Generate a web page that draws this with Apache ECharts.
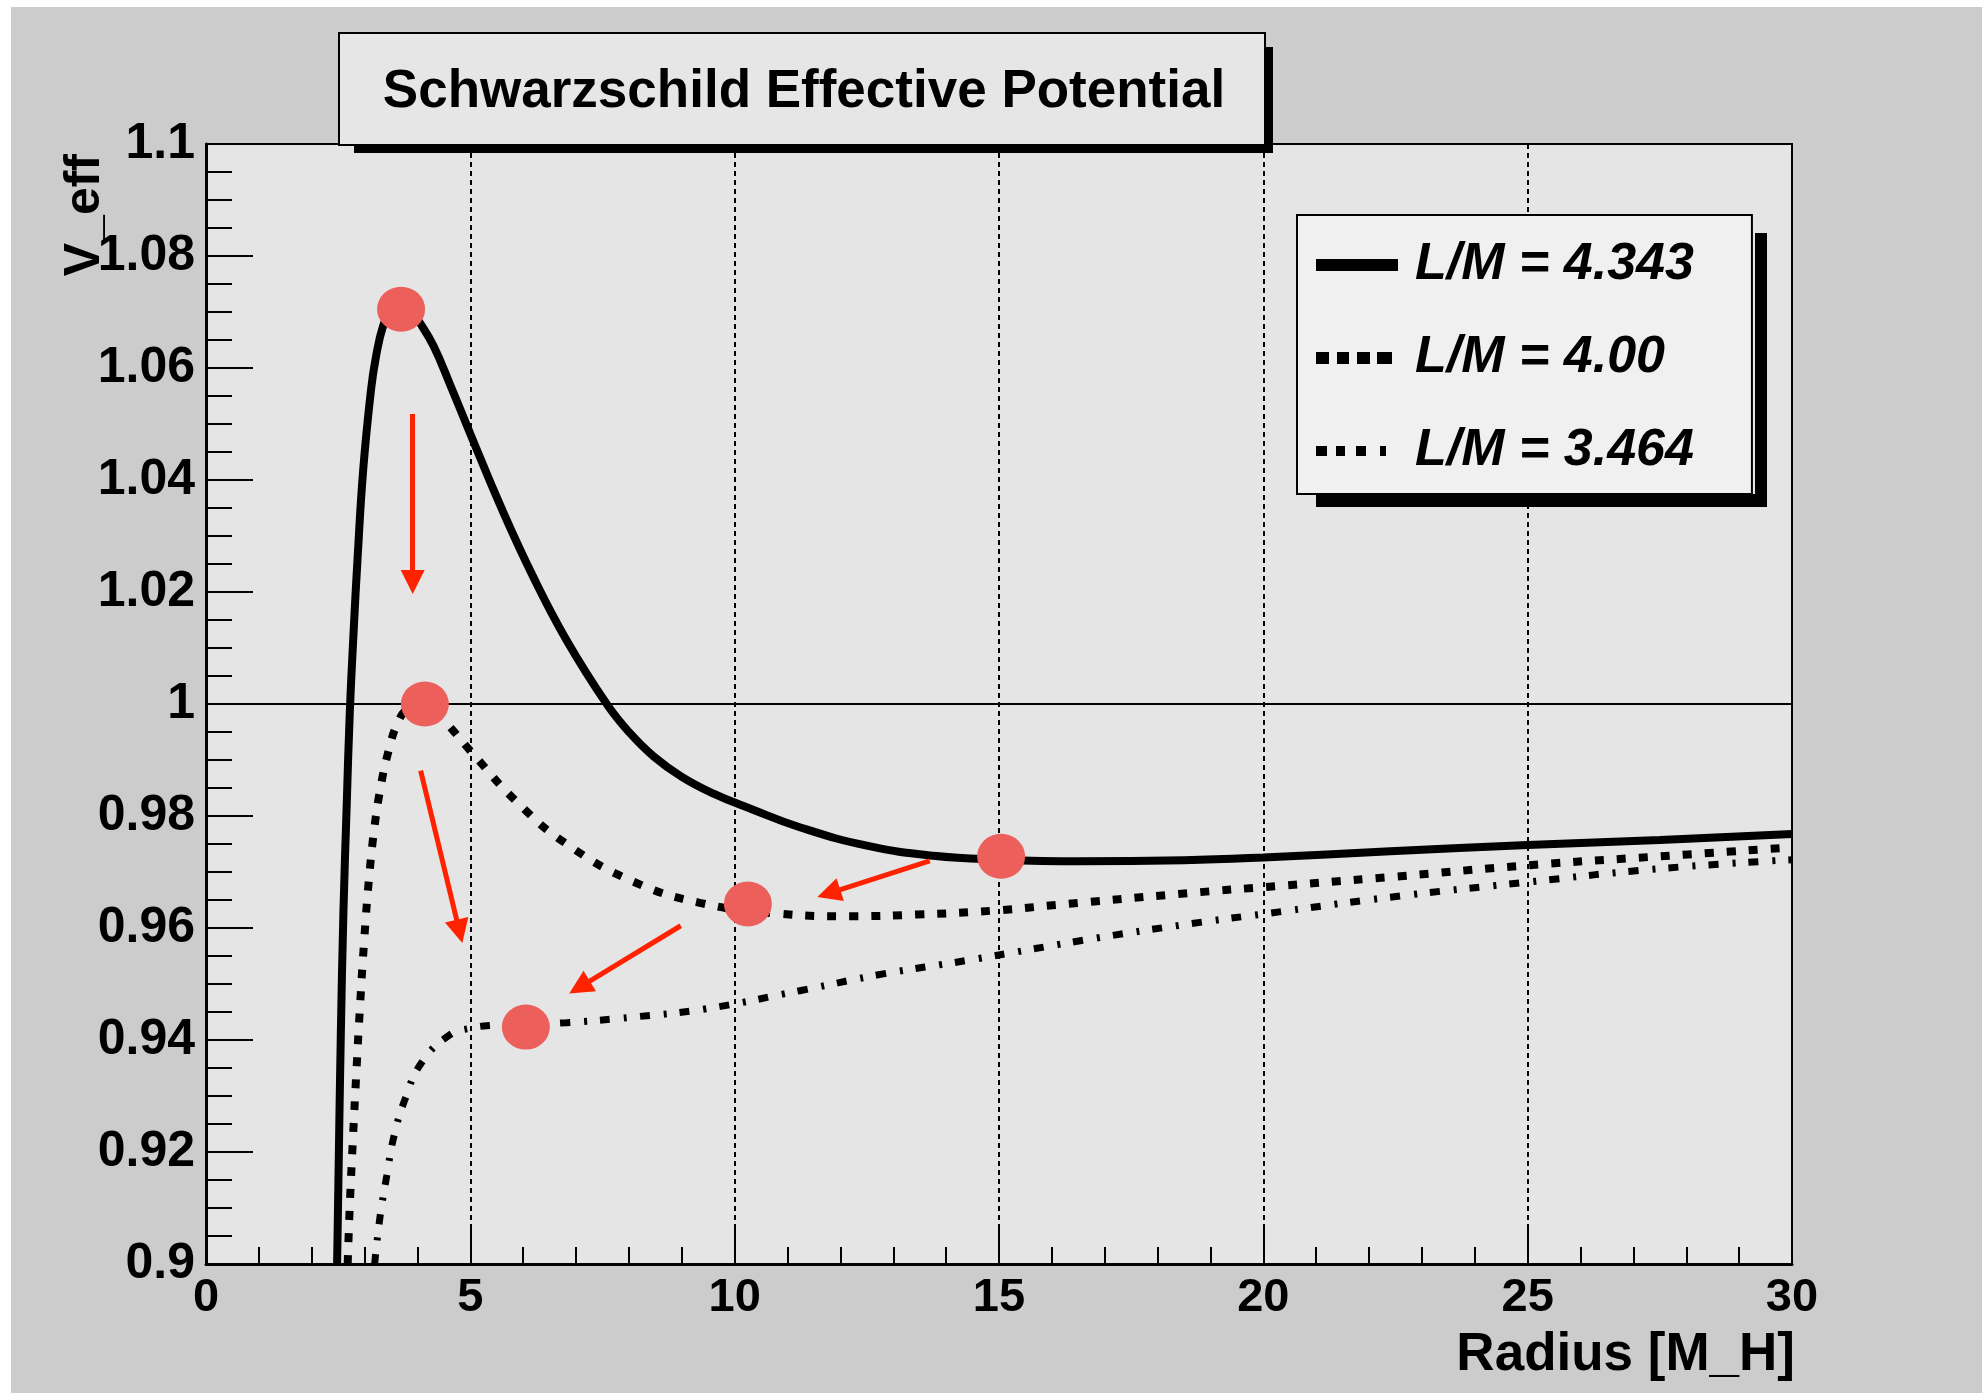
<!DOCTYPE html>
<html>
<head>
<meta charset="utf-8">
<script src="https://cdn.jsdelivr.net/npm/echarts@6/dist/echarts.min.js"></script>
<style>
html,body{margin:0;padding:0;background:#ffffff;}
#chart{width:1982px;height:1393px;}
</style>
</head>
<body>
<div id="chart"></div>
<script>
// ---------------- data ----------------
const chartTitle = 'Schwarzschild Effective Potential';
const xAxisTitle = 'Radius [M_H]';
const yAxisTitle = 'V_eff';
const seriesNames = ['L/M = 4.343', 'L/M = 4.00', 'L/M = 3.464'];

// L/M = 4.343 (solid)
const rSolid = [2.48, 2.51, 2.55, 2.60, 2.66, 2.72, 2.79, 2.87, 2.975, 3.12, 3.215, 3.35, 3.50, 3.69, 3.87, 4.05, 4.30, 4.61, 5.01, 5.56, 6.19, 6.82, 7.58, 8.00, 8.46, 9.00, 9.60, 10.30, 11.23, 12.50, 13.76, 15.02, 16.50, 18.50, 20.00, 22.40, 25.00, 27.50, 30.00];
const vSolid = [0.900, 0.918, 0.941, 0.963, 0.9815, 0.9985, 1.0125, 1.0265, 1.0420, 1.0560, 1.0620, 1.0675, 1.0703, 1.0713, 1.0703, 1.0680, 1.0640, 1.0572, 1.0480, 1.0356, 1.0227, 1.0114, 1.000, 0.9950, 0.9907, 0.9870, 0.9840, 0.9813, 0.9780, 0.9747, 0.9729, 0.9722, 0.9719, 0.9721, 0.9726, 0.9737, 0.9748, 0.9757, 0.9768];

// L/M = 4.00 (dashed)
const rDash = [2.68, 2.72, 2.78, 2.84, 2.91, 2.99, 3.08, 3.18, 3.30, 3.45, 3.62, 3.82, 4.05, 4.30, 4.55, 5.06, 5.88, 6.82, 8.08, 9.34, 10.79, 12.18, 13.44, 14.89, 16.28, 18.80, 20.00, 22.40, 25.00, 27.50, 30.00];
const vDash = [0.900, 0.9105, 0.9225, 0.9335, 0.9455, 0.9575, 0.9685, 0.9775, 0.9850, 0.9915, 0.9965, 0.9993, 1.000, 0.9990, 0.9966, 0.9910, 0.9825, 0.9750, 0.9683, 0.9645, 0.9626, 0.9621, 0.9624, 0.9631, 0.9643, 0.9664, 0.9673, 0.9691, 0.9712, 0.9728, 0.9744];

// L/M = 3.464 (dash-dot)
const rDot = [3.19, 3.29, 3.42, 3.55, 3.76, 4.08, 4.61, 5.00, 5.40, 6.07, 6.82, 8.08, 9.47, 11.23, 12.81, 14.39, 16.91, 18.80, 20.00, 22.40, 25.00, 27.50, 30.00];
const vDot = [0.900, 0.9083, 0.9158, 0.9226, 0.9293, 0.9360, 0.9409, 0.9421, 0.9426, 0.9428, 0.9431, 0.9441, 0.9456, 0.9488, 0.9518, 0.9542, 0.9583, 0.9610, 0.9625, 0.9655, 0.9682, 0.9706, 0.9722];

// red annotation markers
const markerR = [3.69, 4.14, 15.04, 10.25, 6.05];
const markerV = [1.0705, 1.000, 0.9728, 0.9643, 0.9423];

// red annotation arrows (start -> head)
const arrowFromR = [3.91, 4.06, 8.98, 13.69];
const arrowFromV = [1.0518, 0.9881, 0.9604, 0.9720];
const arrowToR   = [3.91, 4.795, 7.065, 11.78];
const arrowToV   = [1.0218, 0.9594, 0.9494, 0.9662];

// horizontal reference line
const refLineV = 1;

// axes
const xMin = 0, xMax = 30, xStep = 5;
const yMin = 0.9, yMax = 1.1, yStep = 0.02;

// ---------------- chart ----------------
const FONT = "'Liberation Sans', Arial, Helvetica, sans-serif";
const zip = (a, b) => a.map((v, i) => [v, b[i]]);

const legendIcons = [
  'path://M0,0H82V12H0Z',
  'path://M0,0H13V12H0Z M21,0H33V12H21Z M41,0H54V12H41Z M61,0H76V12H61Z M82,12',
  'path://M0,1H11V11H0Z M20,1H29V11H20Z M40,1H50V11H40Z M64,1H70V11H64Z M0,0 M82,12'
];

const chart = echarts.init(document.getElementById('chart'), null, {renderer: 'canvas', width: 1982, height: 1393});

const option = {
  animation: false,
  backgroundColor: '#ffffff',
  title: {
    text: chartTitle,
    left: 804, top: 92,
    textAlign: 'center', textVerticalAlign: 'middle',
    padding: 0, z: 20,
    textStyle: {fontSize: 53, fontWeight: 'bold', fontFamily: FONT, color: '#000'}
  },
  legend: {
    orient: 'vertical',
    left: 1297, top: 215,
    padding: [20, 58, 13, 19],
    itemGap: 33,
    itemWidth: 82, itemHeight: 12,
    backgroundColor: '#f0f0f0',
    borderColor: '#000', borderWidth: 2, borderRadius: 0,
    selectedMode: false,
    textStyle: {fontSize: 52, fontWeight: 'bold', fontStyle: 'italic', fontFamily: FONT, color: '#000', lineHeight: 60, padding: [0, 0, 0, 12]},
    data: seriesNames.map((n, i) => ({name: n, icon: legendIcons[i], itemStyle: {color: '#000'}}))
  },
  grid: {
    left: 206, top: 144, width: 1586, height: 1120,
    show: true, backgroundColor: '#e5e5e5', borderColor: '#000', borderWidth: 2,
    containLabel: false, outerBoundsMode: 'none'
  },
  xAxis: {
    type: 'value', min: xMin, max: xMax, interval: xStep,
    name: xAxisTitle, nameLocation: 'end', nameGap: 3, nameMoveOverlap: false,
    nameTextStyle: {fontSize: 53, fontWeight: 'bold', fontFamily: FONT, color: '#000', align: 'right', verticalAlign: 'top', padding: [65, 0, 0, 0]},
    axisLine: {show: true, onZero: false, lineStyle: {color: '#000', width: 3}},
    axisTick: {show: true, inside: true, length: 38, lineStyle: {color: '#000', width: 2}},
    minorTick: {show: true, splitNumber: 5, length: 17, lineStyle: {color: '#000', width: 2}},
    splitLine: {show: true, lineStyle: {color: '#000', width: 2, type: [5, 4]}},
    minorSplitLine: {show: false},
    axisLabel: {color: '#000', fontSize: 47, fontWeight: 'bold', fontFamily: FONT, margin: 11}
  },
  yAxis: {
    type: 'value', min: yMin, max: yMax, interval: yStep,
    name: yAxisTitle, nameLocation: 'end', nameRotate: 90, nameGap: 0, nameMoveOverlap: false,
    nameTextStyle: {fontSize: 50, fontWeight: 'bold', fontFamily: FONT, color: '#000', align: 'right', verticalAlign: 'bottom', padding: [0, 10, 96, 0]},
    axisLine: {show: true, onZero: false, lineStyle: {color: '#000', width: 3}},
    axisTick: {show: true, inside: true, length: 47, lineStyle: {color: '#000', width: 2}},
    minorTick: {show: true, splitNumber: 4, length: 26, lineStyle: {color: '#000', width: 2}},
    splitLine: {show: false},
    axisLabel: {color: '#000', fontSize: 50, fontWeight: 'bold', fontFamily: FONT, margin: 11}
  },
  graphic: [
    {type: 'rect', z: -100, silent: true, shape: {x: 11, y: 7, width: 1971, height: 1386}, style: {fill: '#cccccc'}},
    // title box shadow + box
    {type: 'rect', z: 10, silent: true, shape: {x: 354, y: 145, width: 919, height: 8}, style: {fill: '#000'}},
    {type: 'rect', z: 10, silent: true, shape: {x: 1265, y: 47, width: 8, height: 106}, style: {fill: '#000'}},
    {type: 'rect', z: 11, silent: true, shape: {x: 339, y: 33, width: 926, height: 112}, style: {fill: '#e6e6e6', stroke: '#000', lineWidth: 2}},
    // legend shadow
    {type: 'rect', z: 3, silent: true, shape: {x: 1755, y: 233, width: 12, height: 274}, style: {fill: '#000'}},
    {type: 'rect', z: 3, silent: true, shape: {x: 1316, y: 494, width: 451, height: 13}, style: {fill: '#000'}}
  ],
  series: [
    {
      name: seriesNames[0], type: 'line', data: zip(rSolid, vSolid),
      symbol: 'none', smooth: 0.45, color: '#000', z: 3,
      lineStyle: {color: '#000', width: 8, type: 'solid'},
      markLine: {
        silent: true, symbol: ['none', 'none'], label: {show: false},
        lineStyle: {color: '#000', width: 2, type: 'solid'},
        data: [{yAxis: refLineV}]
      }
    },
    {
      name: seriesNames[1], type: 'line', data: zip(rDash, vDash),
      symbol: 'none', smooth: 0.45, color: '#000', z: 3,
      lineStyle: {color: '#000', width: 8, type: [9, 13], cap: 'butt'}
    },
    {
      name: seriesNames[2], type: 'line', data: zip(rDot, vDot),
      symbol: 'none', smooth: 0.45, color: '#000', z: 3,
      lineStyle: {color: '#000', width: 7, type: [10, 14, 3, 13], cap: 'butt'}
    },
    {
      name: 'markers', type: 'scatter', data: zip(markerR, markerV),
      symbol: 'circle', symbolSize: [48, 45], z: 5,
      itemStyle: {color: '#EC5F5A', opacity: 1}
    },
    {
      name: 'arrows', type: 'lines', coordinateSystem: 'cartesian2d', z: 6,
      symbol: ['none', 'triangle'], symbolSize: [25, 24],
      lineStyle: {color: '#FF2200', width: 5, opacity: 1, curveness: 0},
      data: arrowFromR.map((r, i) => ({coords: [[r, arrowFromV[i]], [arrowToR[i], arrowToV[i]]]}))
    }
  ]
};
chart.setOption(option);
</script>
</body>
</html>
